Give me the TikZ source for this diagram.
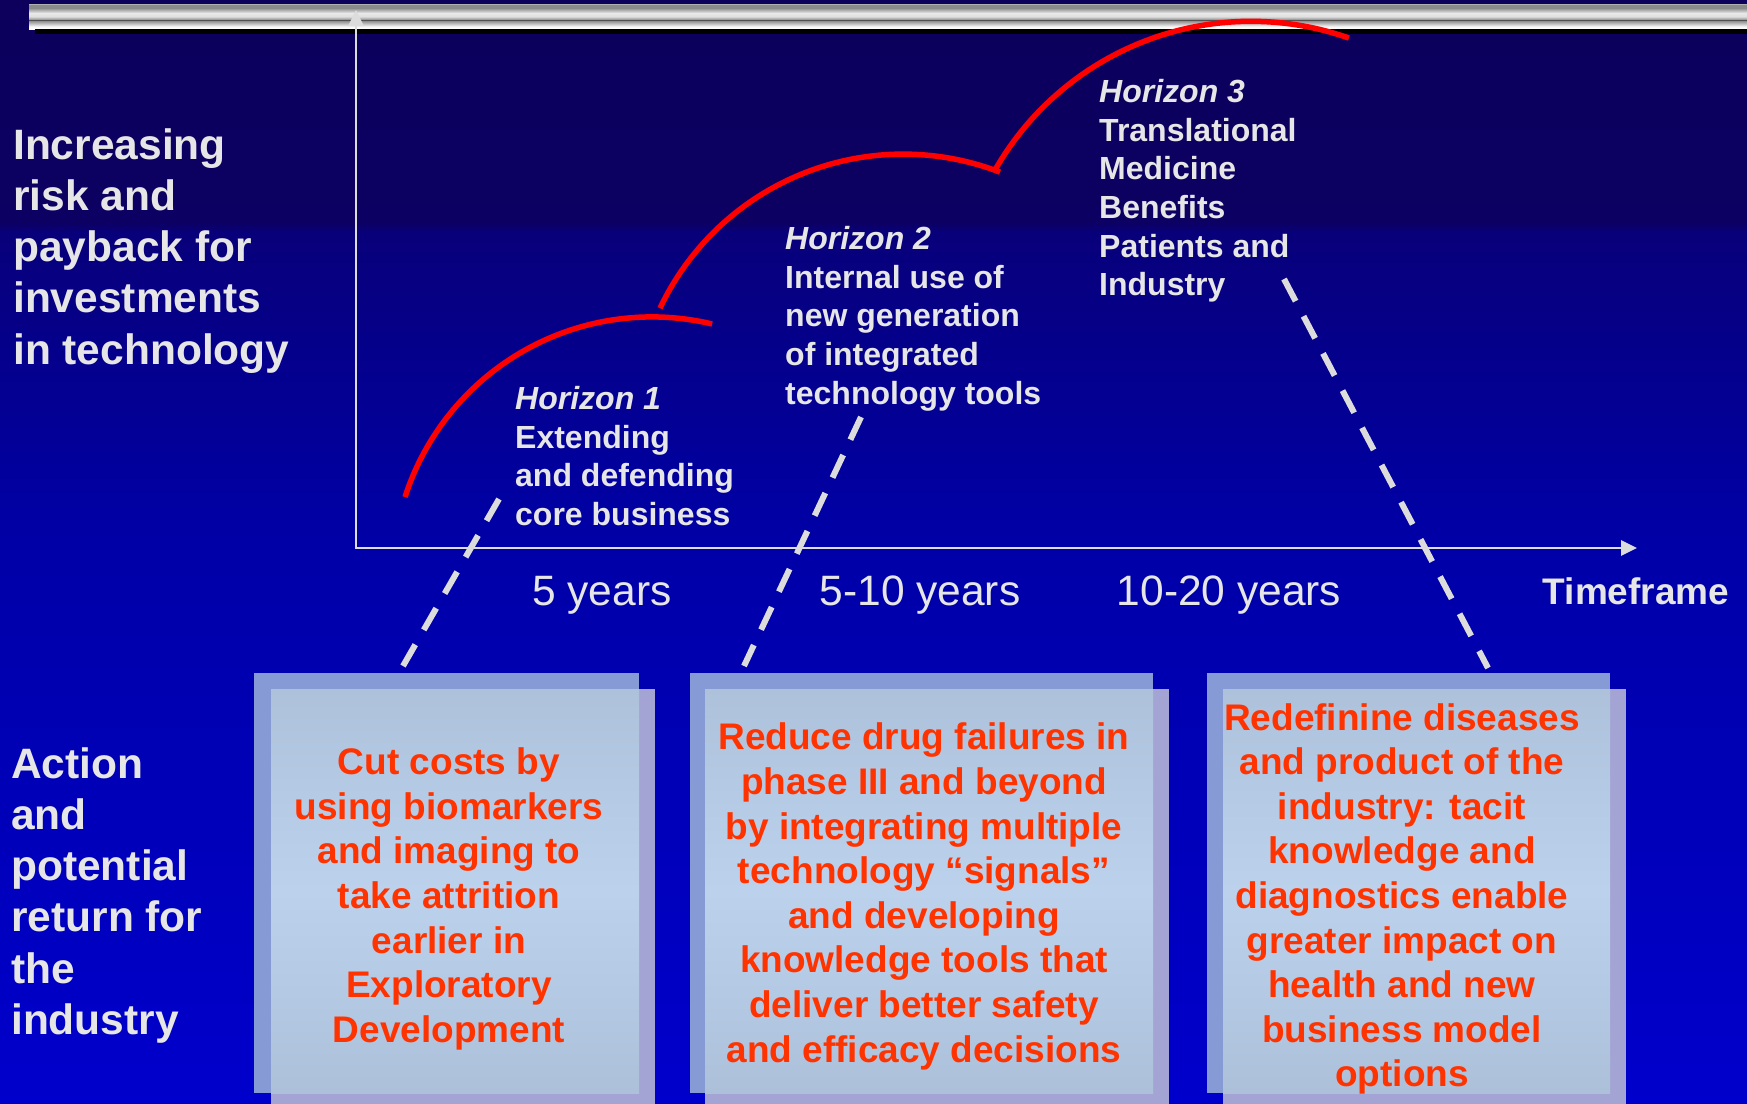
\documentclass[tikz,border=0pt]{standalone}
\usepackage{fontspec}
\setmainfont{Liberation Sans}
\usetikzlibrary{arrows.meta}
\definecolor{lbl}{HTML}{E6E6E6}
\definecolor{axisc}{HTML}{DCDCDC}
\definecolor{boxtxt}{HTML}{FF3300}
\definecolor{backc}{HTML}{869BD6}
\definecolor{lavc}{HTML}{A4A4D4}
\definecolor{frtop}{HTML}{ADC1DB}
\definecolor{frmid}{HTML}{BCD2EC}
\definecolor{frbot}{HTML}{ACC0DA}
\definecolor{bgbot}{HTML}{0000CC}
\definecolor{bgmid}{HTML}{0000A8}
\definecolor{bgup}{HTML}{08007A}
\definecolor{bgtop}{HTML}{0C0062}
\definecolor{bgtopmost}{HTML}{0C005C}
\definecolor{mA}{HTML}{B0B0B0}
\definecolor{mB}{HTML}{8A8A8A}
\definecolor{mC}{HTML}{E8E8E8}
\definecolor{mD}{HTML}{E0E0E0}
\definecolor{mE}{HTML}{A0A0A0}
\definecolor{mF}{HTML}{505050}
\definecolor{mG}{HTML}{909090}
\definecolor{mH}{HTML}{C8C8C8}
\definecolor{mI}{HTML}{F8F8F8}
\pgfdeclareverticalshading{bgshade}{100bp}{color(0bp)=(bgbot); color(25bp)=(bgbot); color(50bp)=(bgmid); color(64.5bp)=(bgup); color(64.9bp)=(bgtop); color(75bp)=(bgtopmost); color(100bp)=(bgtopmost)}
\pgfdeclareverticalshading{barshade}{100bp}{color(0bp)=(white); color(25bp)=(white); color(30bp)=(mI); color(35bp)=(mH); color(41bp)=(mG); color(43bp)=(mF); color(45bp)=(mE); color(50bp)=(mD); color(57bp)=(mC); color(67bp)=(mB); color(73bp)=(mB); color(75bp)=(mA); color(100bp)=(mA)}
\begin{document}
\begin{tikzpicture}[x=1pt,y=-1pt,
  axisline/.style={draw=axisc, line width=2.7pt, -{Triangle[length=16pt,width=15pt]}},
  redarc/.style={draw=red, line width=5.5pt},
  dashlink/.style={draw=axisc, line width=6pt, dash pattern=on 25pt off 17pt},
  sidelbl/.style={text=lbl, font={\fontsize{42.5}{51.3}\selectfont\bfseries}, align=left, anchor=north west, inner sep=0pt},
  horlbl/.style={text=lbl, font={\fontsize{32}{38.7}\selectfont\bfseries}, align=left, anchor=north west, inner sep=0pt},
  yearlbl/.style={text=lbl, font={\fontsize{42.5}{51}\selectfont}, inner sep=0pt},
  boxlbl/.style={text=boxtxt, font={\fontsize{37}{44.6}\selectfont\bfseries}, align=center, inner sep=0pt},
  backrect/.style={fill=backc},
  lavrect/.style={fill=lavc},
  frontrect/.style={top color=frtop, bottom color=frbot, middle color=frmid}
]
\useasboundingbox (0,0) rectangle (1747,1103);
% background
\fill[shading=bgshade] (0,0) rectangle (1747,1103);
% metallic bar
\fill[shading=barshade] (29,4) rectangle (1747,29);
\fill[black] (35,29) rectangle (1747,34);
% axes
\coordinate (origin) at (356,548);
\coordinate (ytip) at (356,10);
\coordinate (xtip) at (1637,548);
\draw[axisline] (origin) -- (ytip);
\draw[axisline] (355,548) -- (xtip);
% horizon arcs
\draw[redarc] plot[domain=-162.2:-76.6, samples=90] ({652+259.4*cos(\x)},{576.3+259.4*sin(\x)});
\draw[redarc] plot[domain=-154.7:-68.9, samples=90] ({903.2+269*cos(\x)},{423.1+269*sin(\x)});
\draw[redarc] plot[domain=-150.3:-70.6, samples=90] ({1251+294.7*cos(\x)},{316+294.7*sin(\x)});
% boxes
\fill[lavrect] (271,689) rectangle (655,1109);
\fill[backrect] (254,673) rectangle (639,1093);
\fill[frontrect] (271,689) rectangle (639,1093);
\fill[lavrect] (705,689) rectangle (1169,1109);
\fill[backrect] (690,673) rectangle (1153,1093);
\fill[frontrect] (705,689) rectangle (1153,1093);
\fill[lavrect] (1223,689) rectangle (1626,1109);
\fill[backrect] (1207,673) rectangle (1610,1093);
\fill[frontrect] (1223,689) rectangle (1610,1093);
\node[boxlbl] (box1) at (449,899) {Cut costs by\\using biomarkers\\and imaging to\\take attrition\\earlier in\\Exploratory\\Development};
\node[boxlbl] (box2) at (924,896.5) {Reduce drug failures in\\phase III and beyond\\by integrating multiple\\technology “signals”\\and developing\\knowledge tools that\\deliver better safety\\and efficacy decisions};
\node[boxlbl] (box3) at (1402,899) {Redefinine diseases\\and product of the\\industry: tacit\\knowledge and\\diagnostics enable\\greater impact on\\health and new\\business model\\options};
% horizon labels
\node[horlbl] (h1) at (515,386) {\textit{Horizon 1}\\Extending\\and defending\\core business};
\node[horlbl] (h2) at (785,226) {\textit{Horizon 2}\\Internal use of\\new generation\\of integrated\\technology tools};
\node[horlbl] (h3) at (1099,79) {\textit{Horizon 3}\\Translational\\Medicine\\Benefits\\Patients and\\Industry};
% dashed links
\coordinate (d1a) at (499,499);
\coordinate (d1b) at (403,666);
\coordinate (d2a) at (861,417);
\coordinate (d2b) at (744,666);
\coordinate (d3a) at (1284,279);
\coordinate (d3b) at (1488,668);
\draw[dashlink] (d1a) -- (d1b);
\draw[dashlink] (d2a) -- (d2b);
\draw[dashlink] (d3a) -- (d3b);
% side labels
\node[sidelbl] (risk) at (13,128) {Increasing\\risk and\\payback for\\investments\\in technology};
\node[sidelbl] (action) at (11,747) {Action\\and\\potential\\return for\\the\\industry};
% timeframe labels
\node[yearlbl] (y1) at (602,595.5) {5 years};
\node[yearlbl] (y2) at (920,595.5) {5-10 years};
\node[yearlbl] (y3) at (1229,595.5) {10-20 years};
\node[text=lbl, font={\fontsize{37}{44}\selectfont\bfseries}, inner sep=0pt] (tf) at (1636,591) {Timeframe};
\end{tikzpicture}
\end{document}
